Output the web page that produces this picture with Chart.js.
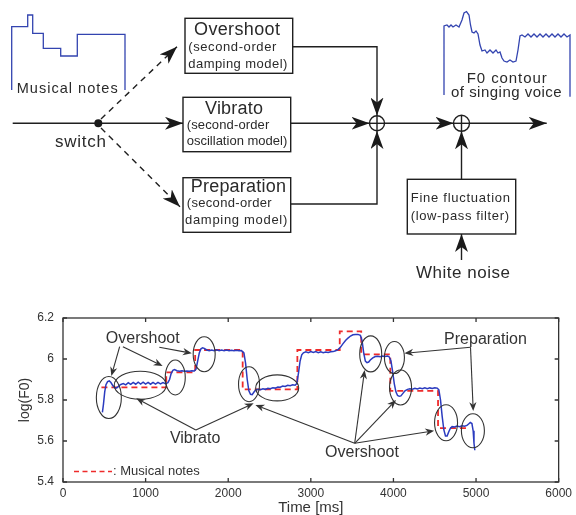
<!DOCTYPE html>
<html>
<head>
<meta charset="utf-8">
<script src="https://cdn.jsdelivr.net/npm/chart.js@4.4.0/dist/chart.umd.min.js"></script>
<style>
  html, body { margin: 0; padding: 0; background: #fff; }
  #wrap { position: relative; width: 576px; height: 515px; overflow: hidden; }
  #plot, #diagram { position: absolute; left: 0; top: 0; }
  svg text { font-family: "Liberation Sans", Arial, sans-serif; fill: #2a2a2a; }
</style>
</head>
<body>
<div id="wrap">
  <canvas id="plot" width="576" height="515"></canvas>
  <svg id="diagram" width="576" height="290" viewBox="0 0 576 290">
    <defs>
      <marker id="ah" viewBox="0 0 18 13" refX="18" refY="6.5" markerWidth="18" markerHeight="13"
              markerUnits="userSpaceOnUse" orient="auto">
        <path d="M0,0 L18,6.5 L0,13 L5,6.5 Z" fill="#1a1a1a"/>
      </marker>
    </defs>

    <!-- little sketches -->
    <g fill="none" stroke="#3344b0" stroke-width="1.3">
      <path d="M11.7,90 V26.7 H27.7 V15 H32.7 V33.3 H43.3 V48.3 H60.7 V56 H77.3 V34.3 H125 V90"/>
      <path d="M444,95 V26 L447,25 L449,27 L451,25 L453,27 L456,25 L459,27 L462,20 L464,13 L466.5,11.5 L469,15
               L470.5,25 L472,32 L474,33 L476,31 L478,34 L480,45 L482,51 L485,50 L487,53 L490,50 L493,53 L496,50
               L498,53 L500,52 L502,58 L504,61 L507,62 L510,60 L513,62 L516,61 L518,50 L520,36 L522,35 L525,37
               L528,34 L531,37 L534,34 L537,37 L540,34 L543,37 L546,34 L549,37 L552,34 L555,37 L558,34 L561,37
               L564,34 L567,37 L570,35 V96.7"/>
    </g>

    <!-- blocks and wires -->
    <g fill="none" stroke="#1f1f1f" stroke-width="1.4">
      <rect x="185" y="18.3" width="107.7" height="55"/>
      <rect x="183" y="97.3" width="107.7" height="54.4"/>
      <rect x="183" y="177.7" width="107.7" height="54.6"/>
      <rect x="407.3" y="179.3" width="108.4" height="54.7"/>

      <line x1="12.7" y1="123.3" x2="183" y2="123.3" marker-end="url(#ah)"/>
      <line x1="101" y1="119" x2="177" y2="46.7" stroke-dasharray="6,5" marker-end="url(#ah)"/>
      <line x1="101" y1="128" x2="180" y2="206.7" stroke-dasharray="6,5" marker-end="url(#ah)"/>

      <polyline points="292.7,46.7 377,46.7 377,115.5" marker-end="url(#ah)"/>
      <line x1="290.7" y1="123.3" x2="369.5" y2="123.3" marker-end="url(#ah)"/>
      <polyline points="290.7,204 377,204 377,131.1" marker-end="url(#ah)"/>

      <line x1="384.5" y1="123.3" x2="453.5" y2="123.3" marker-end="url(#ah)"/>
      <line x1="469.5" y1="123.3" x2="546.7" y2="123.3" marker-end="url(#ah)"/>
      <line x1="461.5" y1="179.3" x2="461.5" y2="131.3" marker-end="url(#ah)"/>
      <line x1="461.5" y1="260" x2="461.5" y2="234" marker-end="url(#ah)"/>

      <circle cx="377" cy="123.3" r="7.5"/>
      <line x1="369.5" y1="123.3" x2="384.5" y2="123.3"/>
      <line x1="377" y1="115.8" x2="377" y2="130.8"/>
      <circle cx="461.5" cy="123.3" r="8"/>
      <line x1="453.5" y1="123.3" x2="469.5" y2="123.3"/>
      <line x1="461.5" y1="115.3" x2="461.5" y2="131.3"/>
    </g>
    <circle cx="98.3" cy="123.3" r="4" fill="#1a1a1a"/>

    <!-- labels -->
    <text x="16.7" y="92.7" font-size="14.5" textLength="101" lengthAdjust="spacing">Musical notes</text>
    <text x="55" y="146.7" font-size="17" textLength="51" lengthAdjust="spacing">switch</text>

    <text x="194" y="35" font-size="18" textLength="86" lengthAdjust="spacing">Overshoot</text>
    <text x="188.3" y="51" font-size="13" textLength="88" lengthAdjust="spacing">(second-order</text>
    <text x="188.3" y="67.5" font-size="13" textLength="99" lengthAdjust="spacing">damping model)</text>

    <text x="205" y="114" font-size="18" textLength="58" lengthAdjust="spacing">Vibrato</text>
    <text x="186.7" y="128.5" font-size="13" textLength="82.6" lengthAdjust="spacing">(second-order</text>
    <text x="186.7" y="144.5" font-size="13" textLength="100.6" lengthAdjust="spacing">oscillation model)</text>

    <text x="190.7" y="192" font-size="18" textLength="95.3" lengthAdjust="spacing">Preparation</text>
    <text x="186.7" y="207" font-size="13" textLength="85" lengthAdjust="spacing">(second-order</text>
    <text x="185" y="224" font-size="13" textLength="102.3" lengthAdjust="spacing">damping model)</text>

    <text x="466.7" y="82.7" font-size="15" textLength="80" lengthAdjust="spacing">F0 contour</text>
    <text x="451" y="96.5" font-size="15" textLength="110.7" lengthAdjust="spacing">of singing voice</text>

    <text x="410.7" y="201.7" font-size="13" textLength="99.3" lengthAdjust="spacing">Fine fluctuation</text>
    <text x="410.7" y="220" font-size="13" textLength="98.3" lengthAdjust="spacing">(low-pass filter)</text>
    <text x="416" y="278.3" font-size="17" textLength="94" lengthAdjust="spacing">White noise</text>
  </svg>
</div>

<script>
// sung F0 contour (time in ms, log F0)
const f0Time = [
  477, 490, 505, 520, 540, 560, 580, 600, 620, 640, 660, 680, 700, 730, 760, 790, 820, 850, 880, 910,
  940, 970, 1000, 1030, 1060, 1090, 1120, 1150, 1180, 1210, 1240, 1270, 1290, 1310, 1330, 1350, 1380, 1410, 1440, 1470,
  1500, 1530, 1560, 1590, 1610, 1630, 1650, 1670, 1690, 1710, 1740, 1770, 1800, 1830, 1860, 1890, 1920, 1950, 1980, 2010,
  2040, 2070, 2100, 2130, 2160, 2190, 2210, 2230, 2250, 2270, 2290, 2310, 2330, 2360, 2390, 2420, 2450, 2480, 2510, 2540,
  2570, 2600, 2630, 2660, 2690, 2720, 2750, 2780, 2810, 2830, 2850, 2870, 2890, 2910, 2940, 2970, 3000, 3030, 3060, 3090,
  3120, 3150, 3180, 3210, 3240, 3270, 3300, 3330, 3360, 3390, 3420, 3450, 3480, 3510, 3540, 3570, 3600, 3620, 3640, 3660,
  3680, 3700, 3720, 3750, 3780, 3810, 3840, 3870, 3900, 3930, 3950, 3970, 3990, 4010, 4030, 4050, 4070, 4090, 4110, 4140,
  4170, 4200, 4230, 4260, 4290, 4320, 4350, 4380, 4410, 4440, 4470, 4500, 4530, 4550, 4570, 4590, 4610, 4630, 4650, 4670,
  4690, 4710, 4740, 4770, 4800, 4830, 4860, 4890, 4910, 4930, 4950, 4965, 4975, 4985
];
const f0Value = [
  5.740, 5.780, 5.840, 5.875, 5.890, 5.893, 5.885, 5.872, 5.862, 5.858, 5.862, 5.870, 5.876, 5.880, 5.874, 5.884, 5.876, 5.886, 5.877, 5.887,
  5.878, 5.887, 5.878, 5.886, 5.877, 5.886, 5.878, 5.886, 5.879, 5.885, 5.880, 5.885, 5.900, 5.930, 5.945, 5.948, 5.943, 5.940, 5.943, 5.940,
  5.942, 5.940, 5.943, 5.942, 5.950, 5.990, 6.030, 6.050, 6.055, 6.052, 6.044, 6.040, 6.044, 6.040, 6.045, 6.040, 6.044, 6.040, 6.044, 6.040,
  6.043, 6.040, 6.043, 6.040, 6.041, 6.030, 5.980, 5.900, 5.845, 5.828, 5.826, 5.838, 5.848, 5.852, 5.850, 5.855, 5.852, 5.857, 5.855, 5.860,
  5.858, 5.863, 5.862, 5.868, 5.866, 5.872, 5.870, 5.874, 5.872, 5.880, 5.930, 5.990, 6.020, 6.030, 6.035, 6.031, 6.036, 6.032, 6.036, 6.031,
  6.035, 6.031, 6.034, 6.032, 6.035, 6.036, 6.040, 6.046, 6.058, 6.075, 6.090, 6.102, 6.112, 6.118, 6.120, 6.120, 6.115, 6.090, 6.030, 5.990,
  5.982, 5.985, 5.995, 6.005, 6.012, 6.013, 6.011, 6.014, 6.012, 6.014, 6.010, 5.990, 5.940, 5.880, 5.840, 5.822, 5.818, 5.820, 5.830, 5.845,
  5.852, 5.855, 5.853, 5.857, 5.854, 5.858, 5.855, 5.859, 5.855, 5.859, 5.856, 5.860, 5.858, 5.850, 5.800, 5.720, 5.655, 5.625, 5.625, 5.645,
  5.663, 5.670, 5.668, 5.673, 5.670, 5.674, 5.672, 5.676, 5.683, 5.690, 5.685, 5.650, 5.590, 5.555
];

// musical notes: onset times (last entry = end of last note) and pitch
const noteTime = [465, 1250, 1600, 2175, 2837, 3350, 3610, 3962, 4540, 4924];
const noteValue = [5.862, 5.935, 6.044, 5.852, 6.044, 6.135, 6.023, 5.845, 5.663, 5.663];

const xTickValues = [0, 1000, 2000, 3000, 4000, 5000, 6000];
const xTickLabels = ['0', '1000', '2000', '3000', '4000', '5000', '6000'];
const yTickValues = [5.4, 5.6, 5.8, 6.0, 6.2];
const yTickLabels = ['5.4', '5.6', '5.8', '6', '6.2'];

// annotations, placed in data units: [ms, logF0, rx px, ry px]
const ellipses = [
  [555, 5.812, 12.5, 21], [935, 5.872, 26, 14], [1359, 5.910, 10, 17.5], [1709, 6.023, 11, 17.5],
  [2252, 5.877, 10.5, 17.5], [2593, 5.859, 21.5, 13], [3725, 6.025, 11, 18], [4012, 6.007, 10, 16],
  [4086, 5.861, 11, 17.5], [4637, 5.689, 11.5, 18], [4962, 5.650, 11.5, 17]
];
const arrows = [
  [686, 6.060, 585, 5.917], [725, 6.060, 1206, 5.966], [1166, 6.057, 1559, 6.028],
  [1608, 5.654, 886, 5.808], [1608, 5.654, 2308, 5.784],
  [3531, 5.589, 2329, 5.776], [3531, 5.589, 3651, 5.946], [3531, 5.589, 4031, 5.800], [3531, 5.589, 4493, 5.650],
  [4933, 6.057, 4132, 6.028], [4933, 6.057, 4966, 5.746]
];
const notes = [
  ['Overshoot', 965, 6.101], ['Vibrato', 1599, 5.613], ['Overshoot', 3619, 5.543], ['Preparation', 5114, 6.093]
];

const fontFamily = '"Liberation Sans", Arial, sans-serif';
Chart.defaults.font.family = fontFamily;
Chart.defaults.color = '#333';

function drawArrow(ctx, x1, y1, x2, y2) {
  const a = Math.atan2(y2 - y1, x2 - x1);
  const c = Math.cos(a), s = Math.sin(a);
  const L = 9, W = 3.6;
  ctx.beginPath();
  ctx.moveTo(x1, y1);
  ctx.lineTo(x2 - c * L * 0.7, y2 - s * L * 0.7);
  ctx.stroke();
  ctx.beginPath();
  ctx.moveTo(x2, y2);
  ctx.lineTo(x2 - L * c + W * s, y2 - L * s - W * c);
  ctx.lineTo(x2 - L * 0.7 * c, y2 - L * 0.7 * s);
  ctx.lineTo(x2 - L * c - W * s, y2 - L * s + W * c);
  ctx.closePath();
  ctx.fill();
}

// matlab style box with inward ticks
const frame = {
  id: 'frame',
  afterDatasetsDraw(chart) {
    const {ctx, chartArea: a, scales: {x, y}} = chart;
    ctx.save();
    ctx.strokeStyle = '#333';
    ctx.lineWidth = 1.3;
    ctx.strokeRect(a.left, a.top, a.right - a.left, a.bottom - a.top);
    ctx.beginPath();
    x.ticks.forEach(t => {
      const px = x.getPixelForValue(t.value);
      ctx.moveTo(px, a.bottom); ctx.lineTo(px, a.bottom - 4);
      ctx.moveTo(px, a.top); ctx.lineTo(px, a.top + 4);
    });
    y.ticks.forEach(t => {
      const py = y.getPixelForValue(t.value);
      ctx.moveTo(a.left, py); ctx.lineTo(a.left + 4, py);
      ctx.moveTo(a.right, py); ctx.lineTo(a.right - 4, py);
    });
    ctx.stroke();
    ctx.restore();
  }
};

const marks = {
  id: 'marks',
  afterDraw(chart) {
    const {ctx, chartArea: a, scales: {x, y}} = chart;
    ctx.save();
    ctx.strokeStyle = '#333';
    ctx.fillStyle = '#333';
    ctx.lineWidth = 1.1;
    ellipses.forEach(e => {
      ctx.beginPath();
      ctx.ellipse(x.getPixelForValue(e[0]), y.getPixelForValue(e[1]), e[2], e[3], 0, 0, Math.PI * 2);
      ctx.stroke();
    });
    arrows.forEach(r => {
      drawArrow(ctx, x.getPixelForValue(r[0]), y.getPixelForValue(r[1]),
                x.getPixelForValue(r[2]), y.getPixelForValue(r[3]));
    });
    ctx.font = '16px ' + fontFamily;
    ctx.textAlign = 'center';
    ctx.textBaseline = 'middle';
    notes.forEach(n => ctx.fillText(n[0], x.getPixelForValue(n[1]), y.getPixelForValue(n[2])));

    // legend entry
    const ly = a.bottom - 10.5;
    ctx.strokeStyle = '#ee2b2b';
    ctx.lineWidth = 1.6;
    ctx.setLineDash([5, 3.5]);
    ctx.beginPath();
    ctx.moveTo(a.left + 11, ly);
    ctx.lineTo(a.left + 49, ly);
    ctx.stroke();
    ctx.setLineDash([]);
    ctx.font = '13px ' + fontFamily;
    ctx.textAlign = 'left';
    ctx.fillText(': ' + chart.data.datasets[1].label, a.left + 50, ly);
    ctx.restore();
  }
};

new Chart(document.getElementById('plot'), {
  type: 'line',
  data: {
    datasets: [{
      label: 'F0 contour',
      data: f0Time.map((t, i) => ({x: t, y: f0Value[i]})),
      borderColor: '#2b3bbf',
      borderWidth: 1.5,
      pointRadius: 0,
      tension: 0
    }, {
      label: 'Musical notes',
      data: noteTime.map((t, i) => ({x: t, y: noteValue[i]})),
      stepped: true,
      borderColor: '#ee2b2b',
      borderDash: [6, 4],
      borderWidth: 1.8,
      pointRadius: 0
    }]
  },
  options: {
    responsive: false,
    animation: false,
    devicePixelRatio: 1,
    layout: {padding: {top: 318, left: 0, right: 14, bottom: 0}},
    plugins: {legend: {display: false}, tooltip: {enabled: false}},
    scales: {
      x: {
        type: 'linear',
        min: 0,
        max: 6000,
        afterBuildTicks: s => { s.ticks = xTickValues.map(v => ({value: v})); },
        afterFit: s => { s.height = 33; },
        grid: {display: false, drawTicks: false},
        border: {display: false},
        ticks: {padding: 4, font: {size: 12}, maxRotation: 0, autoSkip: false,
                callback: (v, i) => xTickLabels[i]},
        title: {display: true, text: 'Time [ms]', font: {size: 15, lineHeight: 1}, padding: {top: 0, bottom: 0}}
      },
      y: {
        type: 'linear',
        min: 5.4,
        max: 6.2,
        afterBuildTicks: s => { s.ticks = yTickValues.map(v => ({value: v})); },
        afterFit: s => { s.width = 63; },
        grid: {display: false, drawTicks: false},
        border: {display: false},
        ticks: {padding: 9, font: {size: 12}, autoSkip: false,
                callback: (v, i) => yTickLabels[i]},
        title: {display: true, text: 'log(F0)', font: {size: 14, lineHeight: 1}, padding: {top: 18, bottom: 0}}
      }
    }
  },
  plugins: [frame, marks]
});
</script>
</body>
</html>
